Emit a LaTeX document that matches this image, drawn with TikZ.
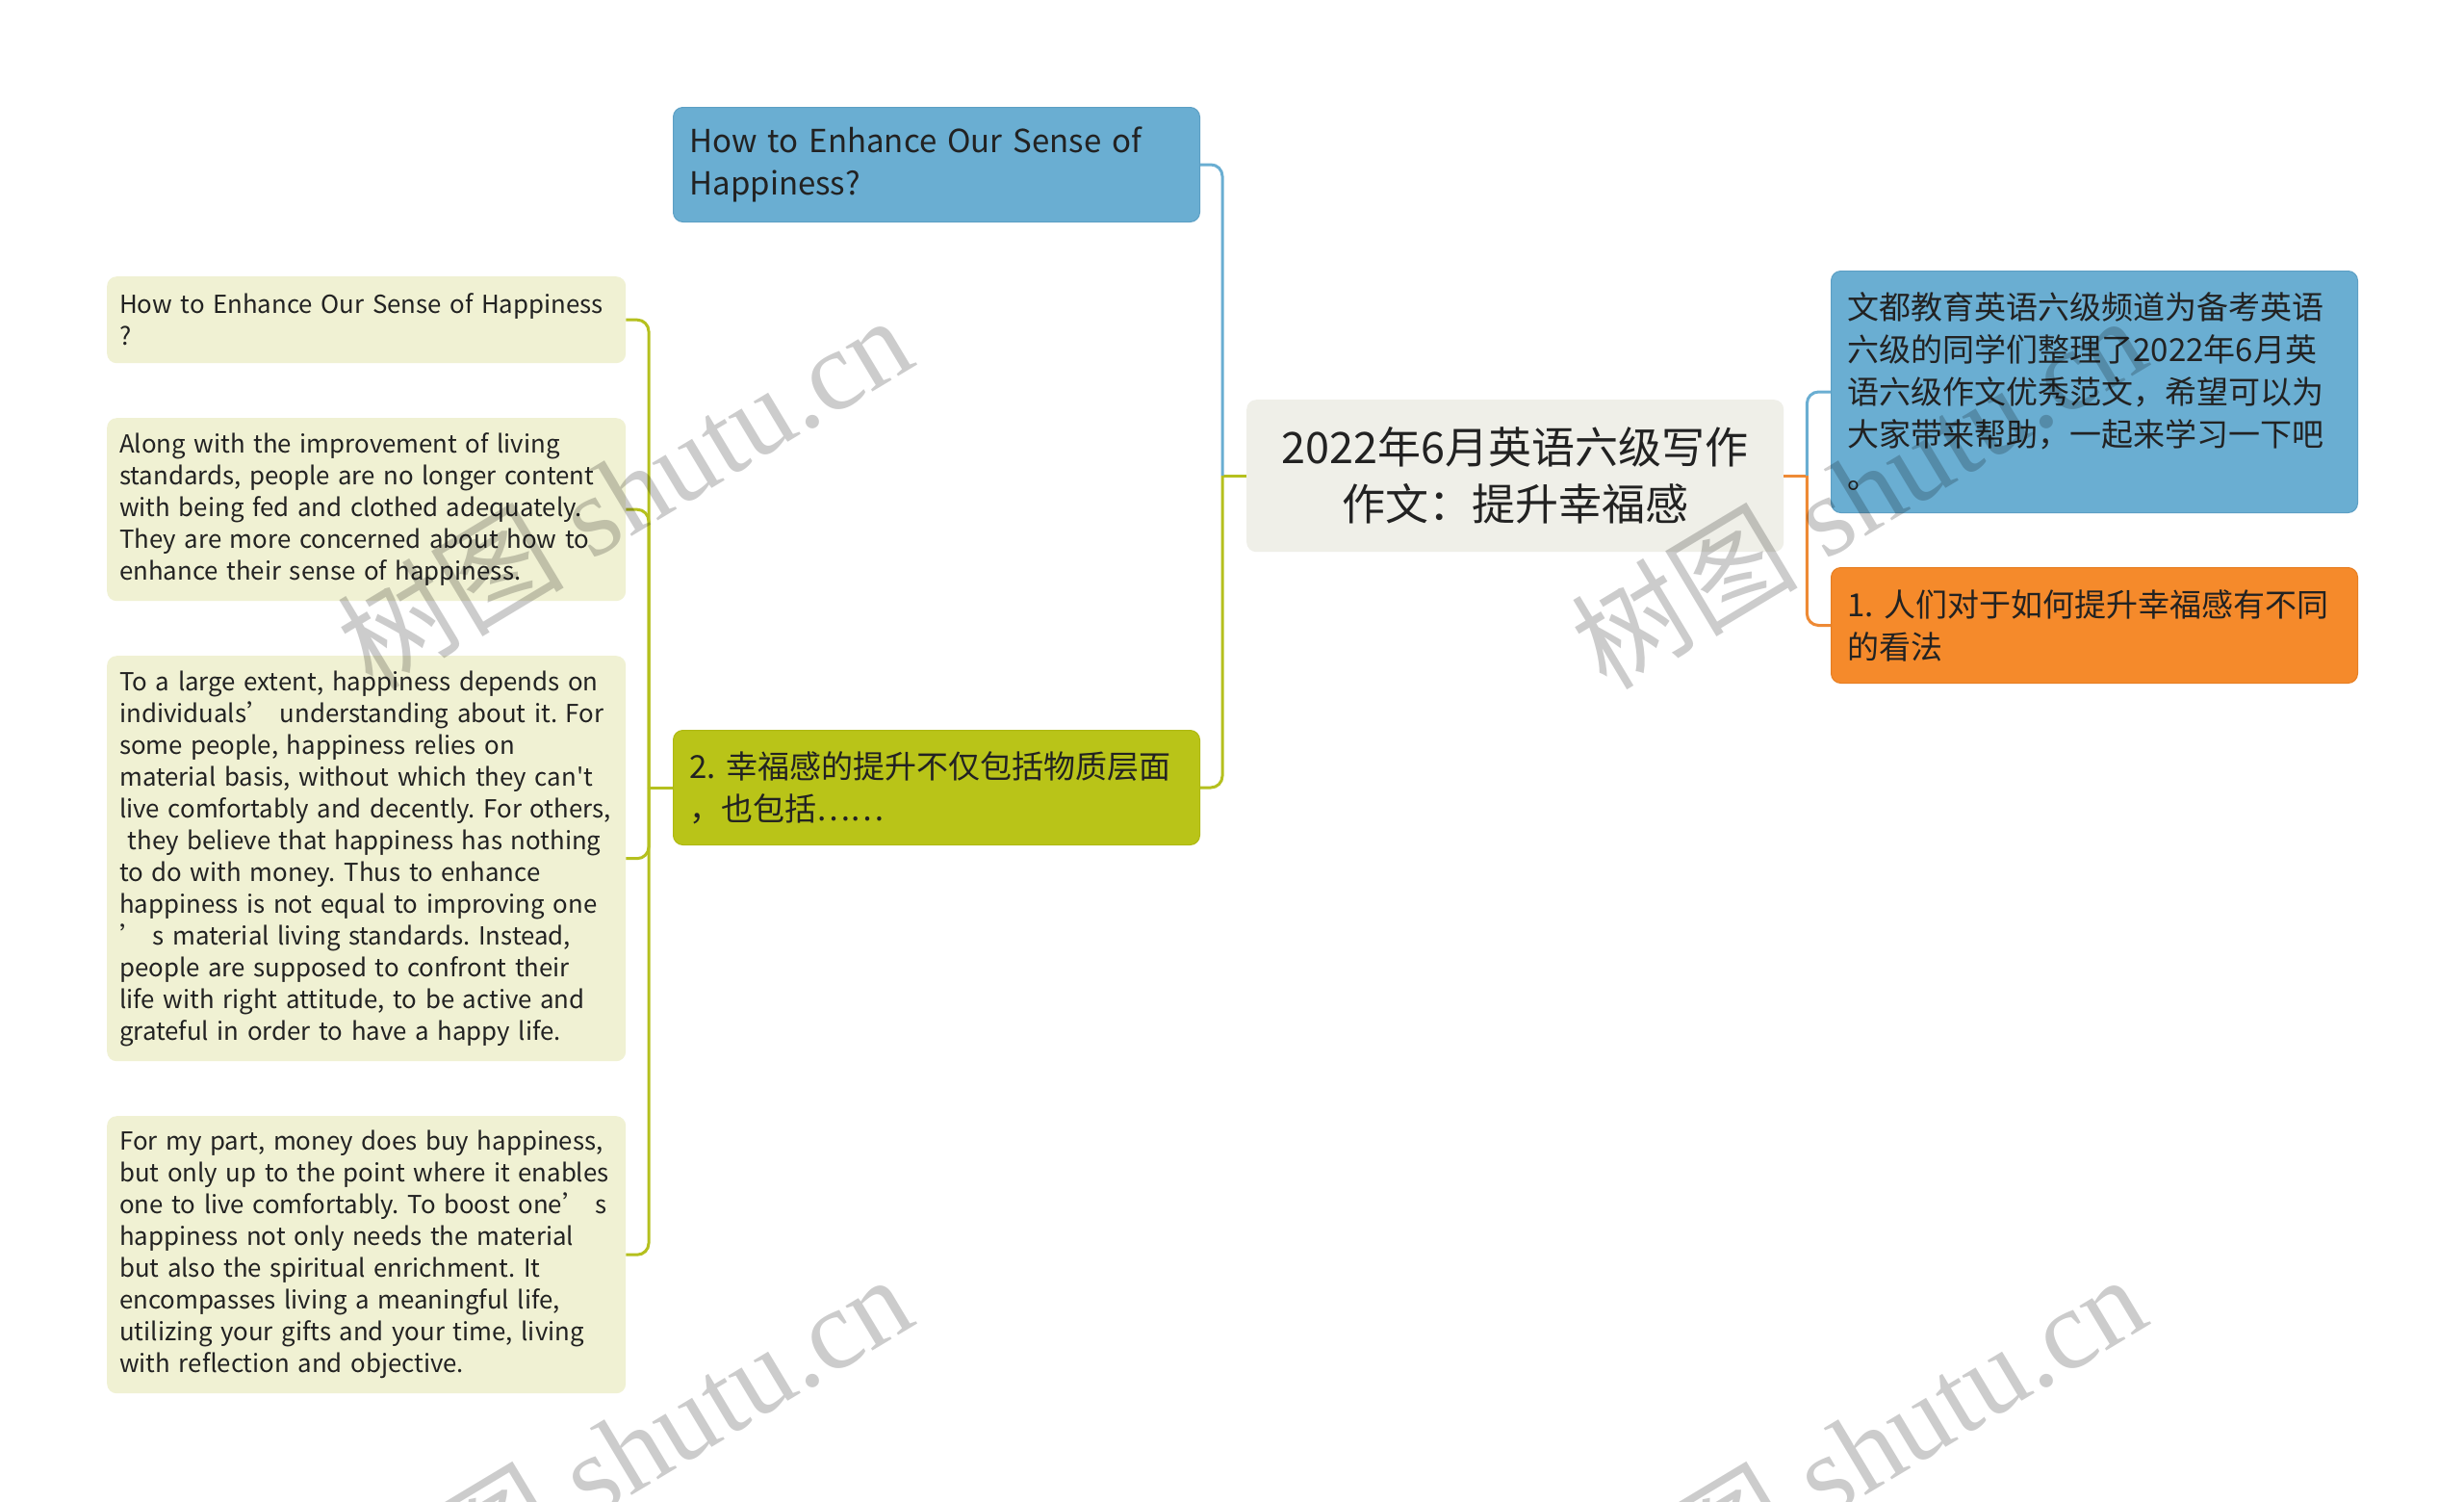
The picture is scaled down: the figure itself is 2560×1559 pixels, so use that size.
\documentclass[tikz,border=0pt]{standalone}
\usepackage{fontspec}
\setmainfont{Noto Sans CJK SC}
\newfontfamily\apfont{Noto Sans CJK SC}
\newfontfamily\wmfont{Liberation Serif}
\newfontfamily\wmcjk{Noto Sans CJK SC}
\usetikzlibrary{calc}
\definecolor{bluefill}{HTML}{6AAED2}
\definecolor{bluedraw}{HTML}{5C9FC4}
\definecolor{greenfill}{HTML}{B9C418}
\definecolor{greendraw}{HTML}{AEB812}
\definecolor{leaffill}{HTML}{F0F1D3}
\definecolor{centerfill}{HTML}{EFEFE8}
\definecolor{orangefill}{HTML}{F58A2B}
\definecolor{orangedraw}{HTML}{E67E22}
\definecolor{bluelink}{HTML}{6AAED2}
\definecolor{greenlink}{HTML}{B5C01E}
\definecolor{orangelink}{HTML}{EE8A35}
\definecolor{txt}{HTML}{222222}
\newcommand\apos{{\apfont'}}
\newcommand\leaffont{\fontsize{25.8}{33}\selectfont\frenchspacing\hyphenpenalty=10000\relax}
\newcommand\mainfontsz{\fontsize{33}{44}\selectfont\frenchspacing}
\newcommand\wmfontsz{\wmfont\fontsize{118}{118}\selectfont}
\tikzset{
  box/.style={rounded corners=10, anchor=north west, align=left, inner ysep=0pt, text=txt},
  leafbox/.style={box, fill=leaffill, inner xsep=13, font=\leaffont},
  mainbox/.style={box, inner xsep=17, font=\mainfontsz},
  link/.style={line width=3pt},
  wm/.style={text=black, opacity=0.2, font=\wmfontsz, rotate=31}
}
\begin{document}
\begin{tikzpicture}[x=1pt,y=-1pt]
\useasboundingbox[fill=white] (0,0) rectangle (2560,1559);
% main nodes
\node[box, fill=centerfill, align=center, inner xsep=10, minimum width=558, minimum height=158, text width=538, font=\fontsize{45}{59}\selectfont] (c) at (1295,415) {2022年6月英语六级写作\\作文：提升幸福感};
\node[mainbox, fill=bluefill, draw=bluedraw, line width=1pt, minimum width=547, minimum height=119, text width=513] (top) at (699,111) {How to Enhance Our Sense of\\Happiness?};
\node[mainbox, fill=greenfill, draw=greendraw, line width=1pt, minimum width=547, minimum height=119, text width=513] (g) at (699,758) {2. 幸福感的提升不仅包括物质层面\\，也包括……};
\node[mainbox, fill=bluefill, draw=bluedraw, line width=1pt, minimum width=547, minimum height=251, text width=513] (rb) at (1902,281) {文都教育英语六级频道为备考英语\\六级的同学们整理了2022年6月英\\语六级作文优秀范文，希望可以为\\大家带来帮助，一起来学习一下吧\\。};
\node[mainbox, fill=orangefill, draw=orangedraw, line width=1pt, minimum width=547, minimum height=120, text width=513] (o) at (1902,589) {1. 人们对于如何提升幸福感有不同\\的看法};
% leaves
\node[leafbox, minimum width=539, minimum height=90, text width=513] (l1) at (111,287) {How to Enhance Our Sense of Happiness\\?};
\node[leafbox, minimum width=539, minimum height=190, text width=513] (l2) at (111,434) {Along with the improvement of living\\standards, people are no longer content\\with being fed and clothed adequately.\\They are more concerned about how to\\enhance their sense of happiness.};
\node[leafbox, minimum width=539, minimum height=421, text width=513] (l3) at (111,681) {To a large extent, happiness depends on\\individuals’ understanding about it. For\\some people, happiness relies on\\material basis, without which they can\apos t\\live comfortably and decently. For others,\\\ they believe that happiness has nothing\\to do with money. Thus to enhance\\happiness is not equal to improving one\\’ s material living standards. Instead,\\people are supposed to confront their\\life with right attitude, to be active and\\grateful in order to have a happy life.};
\node[leafbox, minimum width=539, minimum height=288, text width=513] (l4) at (111,1159) {For my part, money does buy happiness,\\but only up to the point where it enables\\one to live comfortably. To boost one’ s\\happiness not only needs the material\\but also the spiritual enrichment. It\\encompasses living a meaningful life,\\utilizing your gifts and your time, living\\with reflection and objective.};
% junctions
\coordinate (jl) at ($(c.west)+(-25,0)$);
\coordinate (jr) at ($(c.east)+(24,0)$);
\coordinate (jg) at ($(g.west)+(-25,0)$);
% connectors
\draw[link, greenlink] (c.west) -- (jl);
\draw[link, bluelink, rounded corners=12] (jl) |- (top.east);
\draw[link, greenlink, rounded corners=12] (jl) |- (g.east);
\draw[link, orangelink] (c.east) -- (jr);
\draw[link, bluelink, rounded corners=12] (jr) |- (rb.west);
\draw[link, orangelink, rounded corners=12] (jr) |- (o.west);
\draw[link, greenlink] (g.west) -- (jg);
\draw[link, greenlink, rounded corners=12] (jg) |- (l1.east);
\draw[link, greenlink, rounded corners=12] (jg) |- (l2.east);
\draw[link, greenlink, rounded corners=12] (jg) |- (l3.east);
\draw[link, greenlink, rounded corners=12] (jg) |- (l4.east);
% watermarks
\node[wm] (w1) at (648,510) {{\wmcjk 树图} shutu.cn};
\node[wm] (w2) at (1930,510) {{\wmcjk 树图} shutu.cn};
\node[wm] (w3) at (648,1506) {{\wmcjk 树图} shutu.cn};
\node[wm] (w4) at (1930,1506) {{\wmcjk 树图} shutu.cn};
\end{tikzpicture}
\end{document}
